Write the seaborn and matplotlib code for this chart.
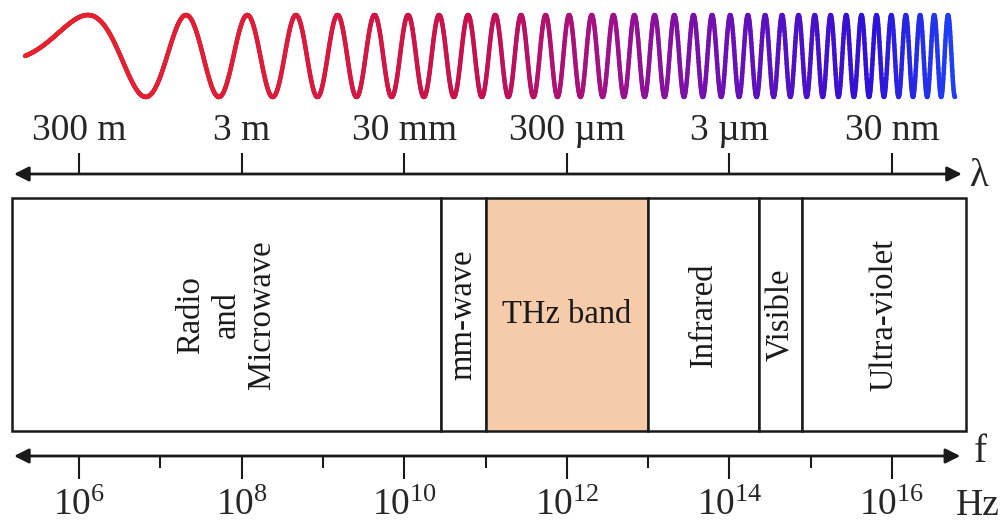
import numpy as np
import matplotlib
matplotlib.use('Agg')
import matplotlib.pyplot as plt
from matplotlib.collections import LineCollection
from matplotlib.colors import LinearSegmentedColormap
import seaborn as sns

# Данные: полосы спектра (log10 частоты в Гц)
band_names = ["Radio\nand\nMicrowave", "mm-wave", "THz band", "Infrared", "Visible", "Ultra-violet"]
band_lo = [5.176, 10.45, 11.0, 13.0, 14.36, 14.89]
band_hi = [10.45, 11.0, 13.0, 14.36, 14.89, 16.91]
band_colors = ["white", "white", "#f5cbaa", "white", "white", "white"]
band_rot = [90, 90, 0, 90, 90, 90]

# Ось частот
freq_major_exp = [6, 8, 10, 12, 14, 16]
freq_minor_exp = [7, 9, 11, 13, 15]

# Ось длин волн (м) и подписи
wavelengths_m = [300, 3, 0.03, 3e-4, 3e-6, 3e-8]
wavelength_labels = ["300 m", "3 m", "30 mm", "300 µm", "3 µm", "30 nm"]

# Цвета волны (красный -> синий), позиция вдоль волны
wave_stops = [0.0, 0.25, 0.48, 0.63, 0.76, 0.91, 1.0]
wave_colors = ["#e8232b", "#e01c38", "#c8104c", "#a0108a", "#6a10b8", "#3010d8", "#1e40f5"]

C = 3e8

sns.set_theme(style="white")
plt.rcParams['font.family'] = ['Liberation Serif', 'DejaVu Serif']
plt.rcParams['mathtext.fontset'] = 'custom'
plt.rcParams['mathtext.rm'] = 'Liberation Serif'
plt.rcParams['mathtext.it'] = 'Liberation Serif:italic'

fig = plt.figure(figsize=(10.02, 5.23), dpi=100)
ax = fig.add_axes([0, 0, 1, 1])
ax.set_xlim(5.028, 17.353)
ax.set_ylim(523, 0)
ax.axis('off')

# --- Волна (декоративный chirp) ---
s = np.linspace(0, 11.44, 3000)
phase = 2 * np.pi * (0.2545 * s ** 2 + 0.1272 * s)
wx = 5.336 + s
wy = 56 - 41 * np.sin(phase)
pts = np.column_stack([wx, wy]).reshape(-1, 1, 2)
segs = np.concatenate([pts[:-1], pts[1:]], axis=1)
cmap = LinearSegmentedColormap.from_list("wave", list(zip(wave_stops, wave_colors)))
lc = LineCollection(segs, cmap=cmap, linewidth=3.2, capstyle='round')
lc.set_array(s[:-1] / s.max())
ax.add_collection(lc)

arrow_kw = dict(arrowstyle='<|-|>', lw=2, color='k', mutation_scale=22, shrinkA=0, shrinkB=0)

# --- Ось длин волн ---
lam_pos = [np.log10(C / w) for w in wavelengths_m]
y_lam = 174
ax.annotate('', xy=(16.86, y_lam), xytext=(5.20, y_lam), arrowprops=arrow_kw)
ax.vlines(lam_pos, 153, y_lam, color='k', lw=1.5)
for xp, lab in zip(lam_pos, wavelength_labels):
    ax.text(xp, 131, lab, ha='center', va='center', fontsize=27)
ax.text(17.08, 176, "λ", ha='center', va='center', fontsize=28)

# --- Полосы ---
widths = [h - l for l, h in zip(band_lo, band_hi)]
ax.bar(band_lo, 233, width=widths, bottom=198,
       align='edge', color=band_colors, edgecolor='#1a1a1a', linewidth=1.8)
for lo, hi, name, rot in zip(band_lo, band_hi, band_names, band_rot):
    ax.text((lo + hi) / 2, 315, name, ha='center', va='center', rotation=rot,
            fontsize=23.5, color='#1a1a1a', linespacing=1.2, multialignment='center')

# --- Ось частот ---
y_f = 456
ax.annotate('', xy=(16.84, y_f), xytext=(5.20, y_f), arrowprops=arrow_kw)
ax.vlines(freq_major_exp, y_f, 479, color='k', lw=1.5)
ax.vlines(freq_minor_exp, y_f, 468, color='k', lw=1.5)
for e in freq_major_exp:
    ax.text(e, 506, r"$\mathrm{10^{%d}}$" % e, ha='center', va='center', fontsize=27)
ax.text(17.09, 453, "f", ha='center', va='center', fontsize=28)
ax.text(17.06, 506, "Hz", ha='center', va='center', fontsize=27)

fig.savefig("out.png", dpi=100)
